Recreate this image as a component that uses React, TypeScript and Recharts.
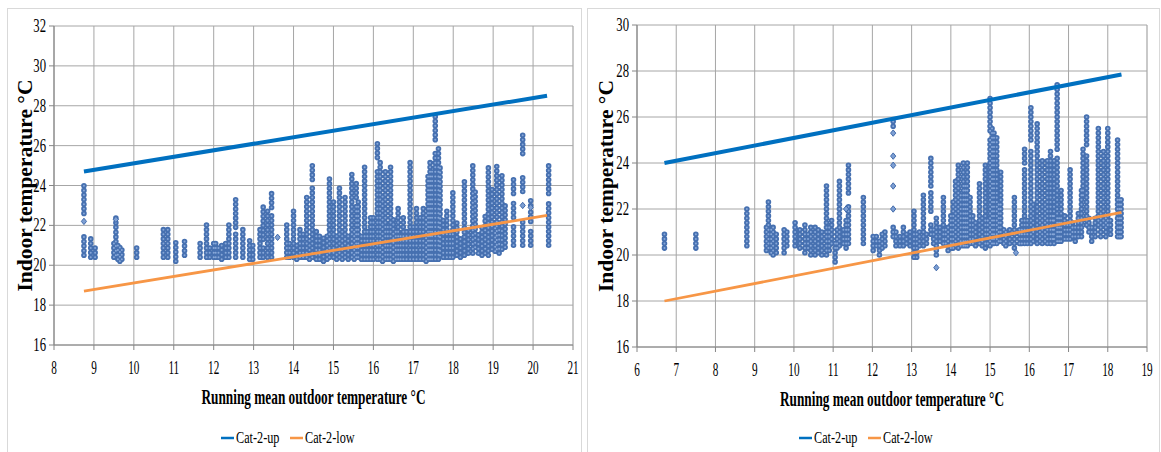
import React from 'react';
import { ComposedChart, Line, Scatter, XAxis, YAxis, CartesianGrid, Legend, Label } from 'recharts';

const FONT = "'Liberation Serif', 'Times New Roman', serif";
const legendOrder = ['Cat-2-up', 'Cat-2-low'];

// ---- left panel ----
const leftXTicks = [8, 9, 10, 11, 12, 13, 14, 15, 16, 17, 18, 19, 20, 21];
const leftYTicks = [16, 18, 20, 22, 24, 26, 28, 30, 32];
const leftUp = [{ x: 8.75, y: 24.7 }, { x: 20.35, y: 28.5 }];
const leftLow = [{ x: 8.75, y: 18.7 }, { x: 20.35, y: 22.5 }];
// indoor readings, one vertical run per entry: [running mean, lowest, highest]
const leftCols = [
  [8.75, 20.5, 21.6], [8.75, 22.6, 24.0], [8.92, 20.4, 21.5], [9.03, 20.4, 20.9],
  [9.5, 20.4, 21.3], [9.55, 20.5, 21.8], [9.55, 21.9, 22.5], [9.6, 20.3, 21.0], [9.65, 20.2, 20.9], [9.7, 20.3, 20.9],
  [10.07, 20.4, 21.0], [10.74, 20.4, 21.8], [10.85, 20.4, 21.9], [11.05, 20.2, 21.2], [11.27, 20.5, 21.3],
  [11.66, 20.4, 21.2], [11.82, 20.4, 22.2], [11.9, 20.4, 21.0], [12.0, 20.4, 21.2], [12.05, 20.4, 21.3],
  [12.12, 20.4, 21.0], [12.2, 20.3, 21.0], [12.3, 20.4, 21.1], [12.38, 20.4, 22.1], [12.55, 20.4, 21.6],
  [12.55, 21.9, 23.4], [12.73, 20.4, 21.8], [12.9, 20.3, 21.4], [12.98, 20.3, 21.2], [13.16, 20.4, 21.8],
  [13.24, 20.4, 21.0], [13.24, 21.3, 23.0], [13.35, 20.4, 22.8], [13.45, 20.4, 22.5], [13.45, 22.9, 23.7],
  [13.83, 20.4, 22.2], [13.9, 20.4, 21.3], [14.0, 20.4, 22.8], [14.08, 20.3, 21.2], [14.16, 20.4, 21.8],
  [14.24, 20.4, 21.6], [14.33, 20.4, 23.5], [14.4, 20.3, 21.4], [14.47, 20.4, 24.0], [14.47, 24.3, 25.1],
  [14.57, 20.3, 21.9], [14.65, 20.3, 21.6], [14.75, 20.2, 21.4], [14.84, 20.3, 21.6], [14.9, 20.4, 24.5],
  [15.0, 20.4, 23.2], [15.08, 20.3, 21.5], [15.15, 20.4, 23.9], [15.22, 20.3, 21.7], [15.29, 20.4, 23.6],
  [15.37, 20.3, 21.5], [15.46, 20.4, 24.7], [15.52, 20.3, 21.8], [15.57, 20.4, 23.0], [15.57, 23.4, 24.1],
  [15.62, 20.4, 23.2], [15.7, 20.3, 21.6], [15.78, 20.3, 25.1], [15.85, 20.3, 21.7], [15.93, 20.3, 22.4],
  [16.0, 20.3, 22.4], [16.1, 20.3, 24.9], [16.1, 25.4, 26.1], [16.17, 20.3, 25.3], [16.23, 20.2, 23.5],
  [16.3, 20.3, 24.8], [16.36, 20.3, 22.0], [16.43, 20.3, 25.1], [16.5, 20.2, 22.5], [16.56, 20.3, 21.8],
  [16.62, 20.3, 22.9], [16.68, 20.3, 21.6], [16.75, 20.3, 22.4], [16.83, 20.3, 21.7], [16.92, 20.3, 25.3],
  [17.0, 20.3, 22.0], [17.08, 20.3, 23.0], [17.17, 20.3, 22.5], [17.25, 20.3, 23.0], [17.32, 20.2, 22.7],
  [17.37, 20.3, 24.5], [17.42, 20.3, 25.3], [17.47, 20.3, 24.8], [17.55, 20.3, 25.8], [17.55, 26.3, 27.6],
  [17.63, 20.3, 25.9], [17.67, 20.5, 24.9], [17.75, 20.4, 22.3], [17.84, 20.4, 22.8], [17.92, 20.4, 21.7],
  [17.99, 20.4, 23.8], [18.09, 20.5, 22.3], [18.18, 20.4, 21.5], [18.28, 20.5, 24.3], [18.38, 20.6, 21.8],
  [18.49, 20.6, 25.1], [18.55, 20.9, 23.8], [18.63, 20.6, 21.6], [18.72, 20.5, 22.0], [18.8, 20.6, 22.5],
  [18.88, 20.5, 25.0], [18.97, 20.8, 23.9], [19.05, 20.7, 22.0], [19.09, 20.8, 25.0], [19.15, 20.6, 21.8],
  [19.22, 20.8, 24.5], [19.3, 20.9, 23.2], [19.51, 21.0, 22.0], [19.51, 22.4, 23.2], [19.51, 23.6, 24.5],
  [19.74, 21.0, 22.2], [19.74, 23.7, 24.6], [19.74, 25.6, 26.6], [19.94, 21.0, 21.8], [19.94, 22.2, 22.8],
  [19.94, 23.0, 23.4], [20.39, 21.0, 23.2], [20.39, 23.6, 25.1],
];
const leftDots = [[8.75, 22.2], [9.55, 22.3], [19.74, 23.0], [19.94, 22.9], [13.6, 21.4]];

// ---- right panel ----
const rightXTicks = [6, 7, 8, 9, 10, 11, 12, 13, 14, 15, 16, 17, 18, 19];
const rightYTicks = [16, 18, 20, 22, 24, 26, 28, 30];
const rightUp = [{ x: 6.7, y: 24.0 }, { x: 18.35, y: 27.85 }];
const rightLow = [{ x: 6.7, y: 18.0 }, { x: 18.35, y: 21.85 }];
const rightCols = [
  [6.7, 20.3, 20.9], [7.5, 20.3, 21.0], [8.8, 20.4, 22.0], [9.3, 20.2, 21.4], [9.35, 20.3, 22.3],
  [9.42, 20.1, 21.2], [9.47, 20.0, 21.3], [9.55, 20.1, 21.0], [9.75, 20.1, 21.1], [9.82, 20.4, 21.1],
  [10.03, 20.4, 21.5], [10.15, 20.3, 21.1], [10.28, 20.1, 21.5], [10.36, 20.3, 21.0], [10.43, 20.0, 21.2],
  [10.54, 20.0, 21.2], [10.62, 20.1, 21.2], [10.71, 20.0, 21.0], [10.83, 20.0, 23.0], [10.9, 20.2, 21.4],
  [10.96, 20.5, 21.5], [11.05, 19.7, 20.6], [11.1, 20.3, 21.2], [11.16, 20.4, 23.3], [11.26, 20.5, 21.3],
  [11.33, 20.3, 21.6], [11.39, 20.5, 22.3], [11.39, 22.7, 24.1], [11.77, 20.5, 22.6], [12.02, 20.2, 21.0],
  [12.1, 20.4, 20.9], [12.18, 20.0, 20.8], [12.25, 20.3, 20.9], [12.32, 20.4, 21.1], [12.53, 20.8, 21.3],
  [12.53, 25.6, 25.9], [12.6, 20.4, 21.0], [12.7, 20.4, 20.9], [12.79, 20.4, 21.3], [12.87, 20.5, 21.0],
  [12.96, 20.4, 21.0], [13.06, 19.9, 21.9], [13.13, 19.9, 21.0], [13.2, 20.4, 21.0], [13.3, 20.4, 22.8],
  [13.38, 20.5, 21.0], [13.49, 20.9, 21.4], [13.49, 21.9, 22.7], [13.49, 23.0, 24.3], [13.56, 20.5, 21.2],
  [13.63, 20.0, 21.6], [13.72, 20.6, 21.2], [13.81, 20.5, 22.5], [13.87, 20.5, 21.3], [13.93, 20.2, 21.2],
  [14.0, 20.3, 21.8], [14.06, 20.3, 22.3], [14.12, 20.4, 23.2], [14.19, 20.3, 24.0], [14.25, 20.4, 22.7],
  [14.32, 20.4, 24.0], [14.37, 20.4, 23.0], [14.42, 20.4, 24.1], [14.49, 20.5, 22.5], [14.56, 20.5, 21.8],
  [14.63, 20.4, 21.5], [14.73, 20.5, 23.3], [14.8, 20.4, 21.6], [14.88, 20.3, 23.9], [14.94, 20.5, 21.6],
  [15.0, 20.4, 25.0], [15.0, 25.4, 26.8], [15.05, 20.5, 25.5], [15.1, 20.5, 25.3], [15.17, 20.5, 25.2],
  [15.22, 20.6, 22.3], [15.27, 20.6, 23.8], [15.35, 20.5, 21.2], [15.4, 20.4, 21.1], [15.5, 20.5, 21.3],
  [15.62, 20.3, 22.6], [15.75, 20.5, 21.3], [15.81, 20.5, 21.6], [15.88, 20.5, 23.8], [15.88, 24.0, 24.6],
  [15.95, 20.5, 21.6], [16.04, 20.5, 24.5], [16.04, 25.0, 26.5], [16.1, 20.6, 22.4], [16.2, 20.5, 25.8],
  [16.27, 20.6, 21.8], [16.33, 20.5, 24.1], [16.4, 20.6, 22.3], [16.46, 20.5, 24.2], [16.54, 20.5, 24.6],
  [16.6, 20.7, 21.9], [16.63, 20.5, 24.1], [16.71, 20.6, 24.2], [16.71, 24.6, 27.5], [16.76, 20.6, 21.8],
  [16.81, 20.6, 22.9], [16.9, 20.7, 21.7], [16.97, 20.7, 21.5], [17.04, 20.7, 23.9], [17.1, 20.8, 21.4],
  [17.17, 20.6, 21.4], [17.25, 20.8, 21.8], [17.33, 20.8, 22.9], [17.37, 22.6, 24.6], [17.46, 21.3, 24.4],
  [17.46, 24.8, 26.1], [17.52, 21.0, 21.6], [17.59, 20.6, 21.4], [17.68, 20.8, 21.7], [17.76, 21.3, 25.6],
  [17.82, 20.8, 21.8], [17.89, 21.3, 24.6], [17.95, 20.8, 21.6], [18.0, 21.3, 25.5], [18.07, 20.9, 21.6],
  [18.25, 20.8, 25.1], [18.3, 20.8, 22.4], [18.34, 20.8, 22.4],
];
const rightDots = [
  [12.53, 22.0], [12.53, 23.0], [12.53, 23.9], [12.53, 24.3], [12.53, 25.3],
  [13.63, 19.45], [15.66, 20.1], [11.33, 22.0],
];

const toRuns = (cols: number[][]) =>
  cols.flatMap(([x, lo, hi]) => [{ x, y: lo }, { x, y: hi }, { x, y: null as number | null }]);
const toDots = (pts: number[][]) => pts.map(([x, y]) => ({ x, y }));

// the source picture is squeezed sideways, so text is narrowed with a transform
const XTick = ({ x, y, payload }: any) => (
  <text transform={`translate(${x},${y + 22}) scale(0.59,1)`} textAnchor="middle" fontFamily={FONT}
    fontSize={19} fill="#000">{payload.value}</text>
);

const YTick = ({ x, y, payload }: any) => (
  <text transform={`translate(${x - 1},${y + 6}) scale(0.67,1)`} textAnchor="end" fontFamily={FONT}
    fontSize={19} fill="#000">{payload.value}</text>
);

const Diamond = ({ cx, cy }: any) => (
  <path d={`M${cx},${cy - 3.2}L${cx + 2.6},${cy}L${cx},${cy + 3.2}L${cx - 2.6},${cy}Z`}
    fill="#7d9fd3" stroke="#416aab" strokeWidth={1} />
);

const LegendBox = ({ payload }: any) => {
  const items = (payload || [])
    .filter((p: any) => legendOrder.includes(p.value))
    .sort((a: any, b: any) => legendOrder.indexOf(a.value) - legendOrder.indexOf(b.value));
  return (
    <div style={{ display: 'flex', justifyContent: 'center', gap: 6, height: 20 }}>
      {items.map((p: any) => {
        const w = String(p.value).length * 5.4;
        return (
          <svg key={p.value} width={20 + w} height={20}>
            <line x1={0} x2={13} y1={10} y2={10} stroke={p.color} strokeWidth={2.5} />
            <text transform="translate(15,15) scale(0.72,1)" fontFamily={FONT} fontSize={17} fill="#000">{p.value}</text>
          </svg>
        );
      })}
    </div>
  );
};

const Panel = ({ width, xTicks, yTicks, minor, up, low, cols, dots, margin, yWidth, xHeight }: any) => {
  const runs = toRuns(cols);
  const xDomain = [xTicks[0], xTicks[xTicks.length - 1]];
  const yDomain = [yTicks[0], yTicks[yTicks.length - 1]];
  return (
    <ComposedChart width={width} height={444} margin={margin}>
      <XAxis xAxisId="minor" type="number" dataKey="x" domain={xDomain} ticks={minor} hide />
      <CartesianGrid xAxisId="minor" horizontal={false} stroke="#d9d9d9" />
      <CartesianGrid stroke="#a6a6a6" />
      <XAxis type="number" dataKey="x" domain={xDomain} ticks={xTicks} interval={0} height={xHeight}
        axisLine={{ stroke: '#868686' }} tickLine={{ stroke: '#868686' }} tickSize={5} tick={<XTick />}>
        <Label content={({ viewBox }: any) => (
          <text x={viewBox.x + viewBox.width / 2} y={viewBox.y + 59} textAnchor="middle" fontFamily={FONT}
            fontWeight="bold" fontSize={22} fill="#000" textLength={224} lengthAdjust="spacingAndGlyphs">
            Running mean outdoor temperature °C
          </text>
        )} />
      </XAxis>
      <YAxis type="number" domain={yDomain} ticks={yTicks} interval={0} width={yWidth}
        axisLine={{ stroke: '#868686' }} tickLine={{ stroke: '#868686' }} tickSize={5} tick={<YTick />}>
        <Label content={({ viewBox }: any) => {
          const cx = viewBox.x + 18;
          const cy = viewBox.y + viewBox.height / 2;
          return (
            <text x={cx} y={cy} transform={`rotate(-90 ${cx} ${cy})`} textAnchor="middle" dominantBaseline="central"
              fontFamily={FONT} fontWeight="bold" fontSize={20} fill="#000" textLength={212} lengthAdjust="spacingAndGlyphs">
              Indoor temperature °C
            </text>
          );
        }} />
      </YAxis>
      <Line data={runs} dataKey="y" name="runs" stroke="#4670b0" strokeWidth={5.6} strokeDasharray="0 4.6"
        strokeLinecap="round" dot={false} activeDot={false} legendType="none" isAnimationActive={false} />
      <Line data={runs} dataKey="y" name="runs-core" stroke="#87a7d8" strokeWidth={2} strokeDasharray="0 4.6"
        strokeLinecap="round" dot={false} activeDot={false} legendType="none" isAnimationActive={false} />
      <Scatter data={toDots(dots)} dataKey="y" shape={<Diamond />} legendType="none" isAnimationActive={false} />
      <Line data={up} dataKey="y" name="Cat-2-up" stroke="#0070c0" strokeWidth={4} dot={false} activeDot={false}
        legendType="plainline" isAnimationActive={false} />
      <Line data={low} dataKey="y" name="Cat-2-low" stroke="#f79646" strokeWidth={2.8} dot={false} activeDot={false}
        legendType="plainline" isAnimationActive={false} />
      <Legend verticalAlign="bottom" align="center" content={<LegendBox />} />
    </ComposedChart>
  );
};

const leftMinor = Array.from({ length: 66 }, (_, i) => +(8 + i * 0.2).toFixed(1));
const rightMinor = Array.from({ length: 66 }, (_, i) => +(6 + i * 0.2).toFixed(1));

export default function App() {
  return (
    <div style={{ position: 'absolute', left: 0, top: 0, width: 1161, height: 452, background: '#fff', overflow: 'hidden' }}>
      <div style={{ position: 'absolute', left: 7, top: 8, width: 575, height: 450, border: '1px solid #d9d9d9', boxSizing: 'border-box' }} />
      <div style={{ position: 'absolute', left: 587, top: 8, width: 573, height: 450, border: '1px solid #d9d9d9', boxSizing: 'border-box' }} />
      <div style={{ position: 'absolute', left: 7, top: 8 }}>
        <Panel width={574} xTicks={leftXTicks} yTicks={leftYTicks} minor={leftMinor} up={leftUp} low={leftLow}
          cols={leftCols} dots={leftDots} margin={{ top: 18, right: 8, left: 0, bottom: 4 }} yWidth={47} xHeight={83} />
      </div>
      <div style={{ position: 'absolute', left: 588, top: 8 }}>
        <Panel width={572} xTicks={rightXTicks} yTicks={rightYTicks} minor={rightMinor} up={rightUp} low={rightLow}
          cols={rightCols} dots={rightDots} margin={{ top: 17, right: 13, left: 0, bottom: 4 }} yWidth={49} xHeight={81} />
      </div>
    </div>
  );
}
